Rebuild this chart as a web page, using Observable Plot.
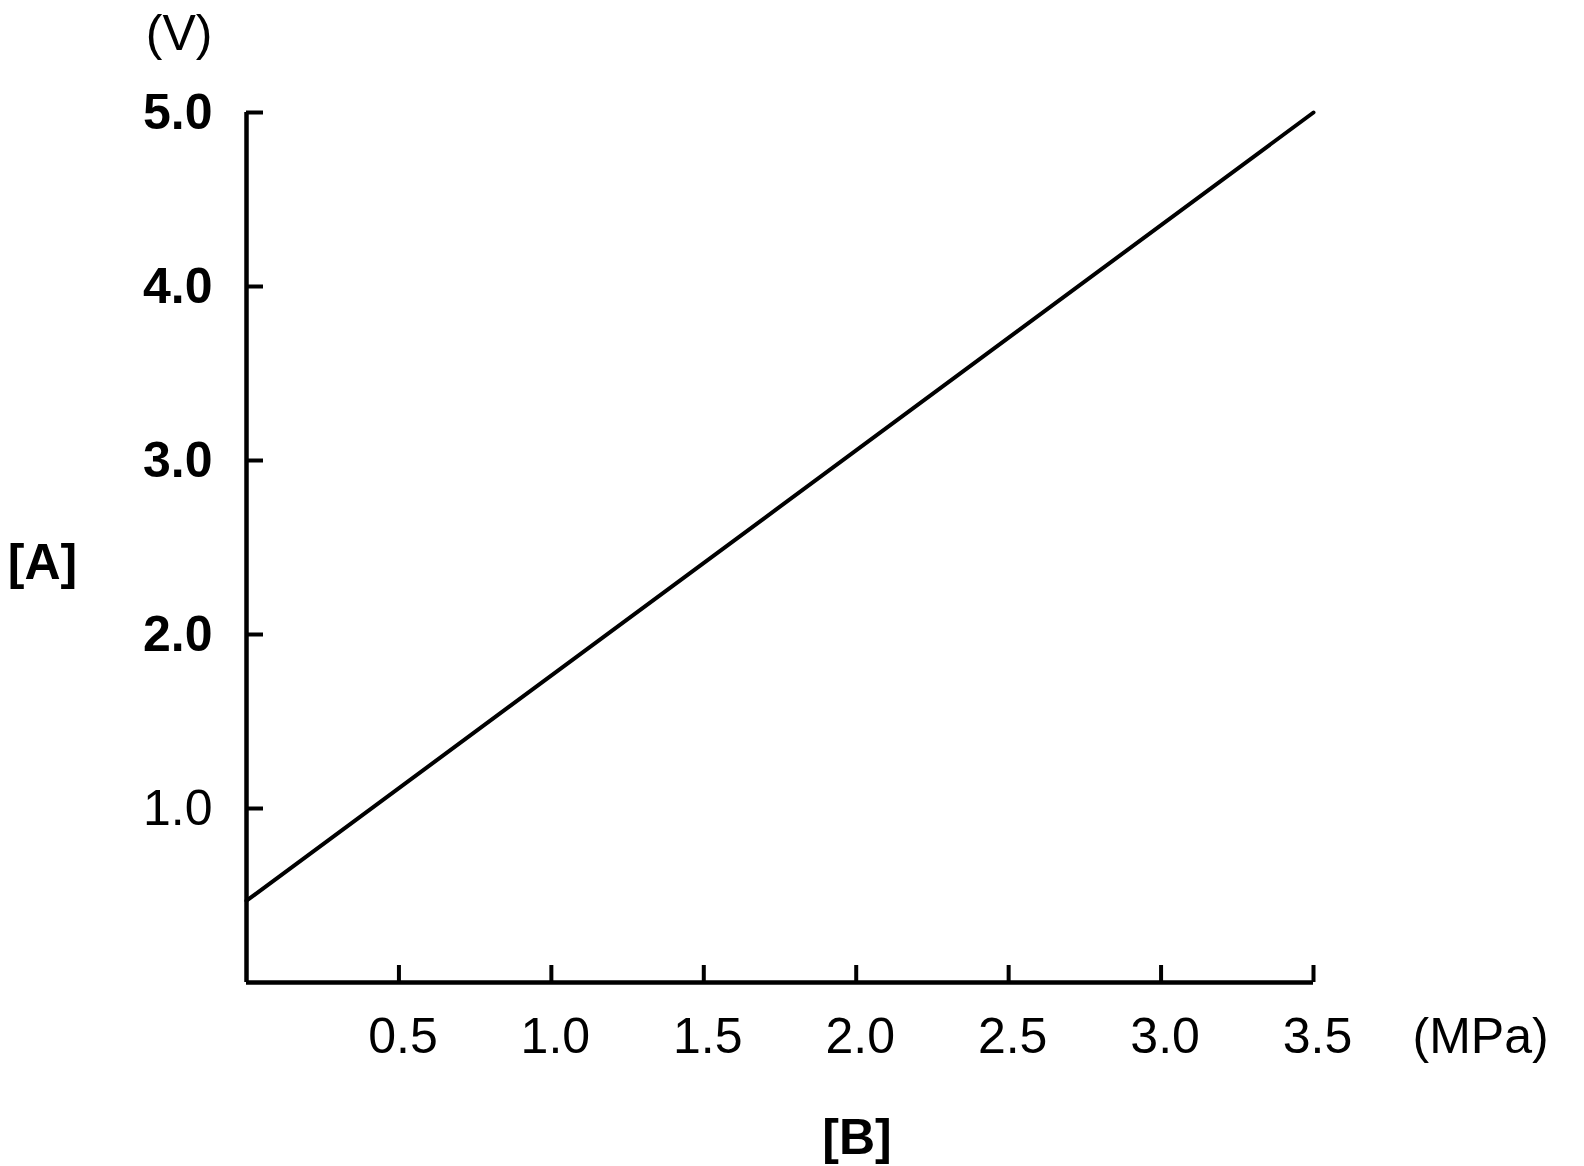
<!DOCTYPE html>
<html>
<head>
<meta charset="utf-8">
<script src="https://cdn.jsdelivr.net/npm/d3@7"></script>
<script src="https://cdn.jsdelivr.net/npm/@observablehq/plot@0.6"></script>
<style>
  html, body { margin: 0; padding: 0; background: #fff; }
  #chart svg { display: block; }
</style>
</head>
<body>
<div id="chart"></div>
<script>
// Data
const pressure = [0, 3.5];          // MPa (x)
const voltage  = [0.47, 5.0];       // V (y)
const xTicks = [0.5, 1.0, 1.5, 2.0, 2.5, 3.0, 3.5];
const yTicksBold = [2.0, 3.0, 4.0, 5.0];
const yTicksRegular = [1.0];
const yUnit = "(V)";
const xUnit = "(MPa)";
const yLabel = "[A]";
const xLabel = "[B]";

const rows = pressure.map((p, i) => ({p, v: voltage[i]}));

const W = 1584, H = 1166;
const mL = 246, mR = 271, mT = 112, mB = 184;
const frameW = W - mL - mR, frameH = H - mT - mB;
const tickLen = 17;
const font = "'Liberation Sans', Arial, sans-serif";

const chart = Plot.plot({
  width: W,
  height: H,
  marginLeft: mL,
  marginRight: mR,
  marginTop: mT,
  marginBottom: mB,
  style: {fontFamily: font, fontSize: "50px", color: "#000", background: "#fff"},
  x: {domain: [0, 3.5], label: null},
  y: {domain: [0, 5], label: null},
  marks: [
    // axis labels
    Plot.axisX(xTicks, {tickSize: 0, tickPadding: 35, tickFormat: d3.format(".1f"), fontSize: 50, dx: 4, fill: "#000", label: null}),
    Plot.axisY(yTicksBold, {tickSize: 0, tickPadding: 34, tickFormat: d3.format(".1f"), fontSize: 50, fontWeight: "bold", fill: "#000", label: null}),
    Plot.axisY(yTicksRegular, {tickSize: 0, tickPadding: 34, tickFormat: d3.format(".1f"), fontSize: 50, fill: "#000", label: null}),
    // inward ticks
    Plot.tickX(xTicks, {x: d => d, stroke: "#000", strokeWidth: 4, insetTop: frameH - tickLen}),
    Plot.tickY([1, 2, 3, 4, 5], {y: d => d, stroke: "#000", strokeWidth: 4, insetRight: frameW - tickLen}),
    // axis lines
    Plot.ruleX([0], {stroke: "#000", strokeWidth: 4.5}),
    Plot.ruleY([0], {stroke: "#000", strokeWidth: 4.5}),
    // data line
    Plot.line(rows, {x: "p", y: "v", stroke: "#000", strokeWidth: 4}),
    // unit labels
    Plot.text([yUnit], {frameAnchor: "top-left", textAnchor: "end", lineAnchor: "middle", dx: -34, dy: -79, fontSize: 50, fill: "#000"}),
    Plot.text([xUnit], {frameAnchor: "bottom-right", textAnchor: "start", lineAnchor: "top", dx: 99, dy: 35, fontSize: 50, fill: "#000"}),
    // axis titles
    Plot.text([yLabel], {frameAnchor: "left", textAnchor: "middle", lineAnchor: "middle", dx: -204, dy: 15, fontSize: 50, fontWeight: "bold", fill: "#000"}),
    Plot.text([xLabel], {frameAnchor: "bottom", textAnchor: "middle", lineAnchor: "middle", dx: 77, dy: 155, fontSize: 50, fontWeight: "bold", fill: "#000"})
  ]
});
document.getElementById("chart").appendChild(chart);
</script>
</body>
</html>
